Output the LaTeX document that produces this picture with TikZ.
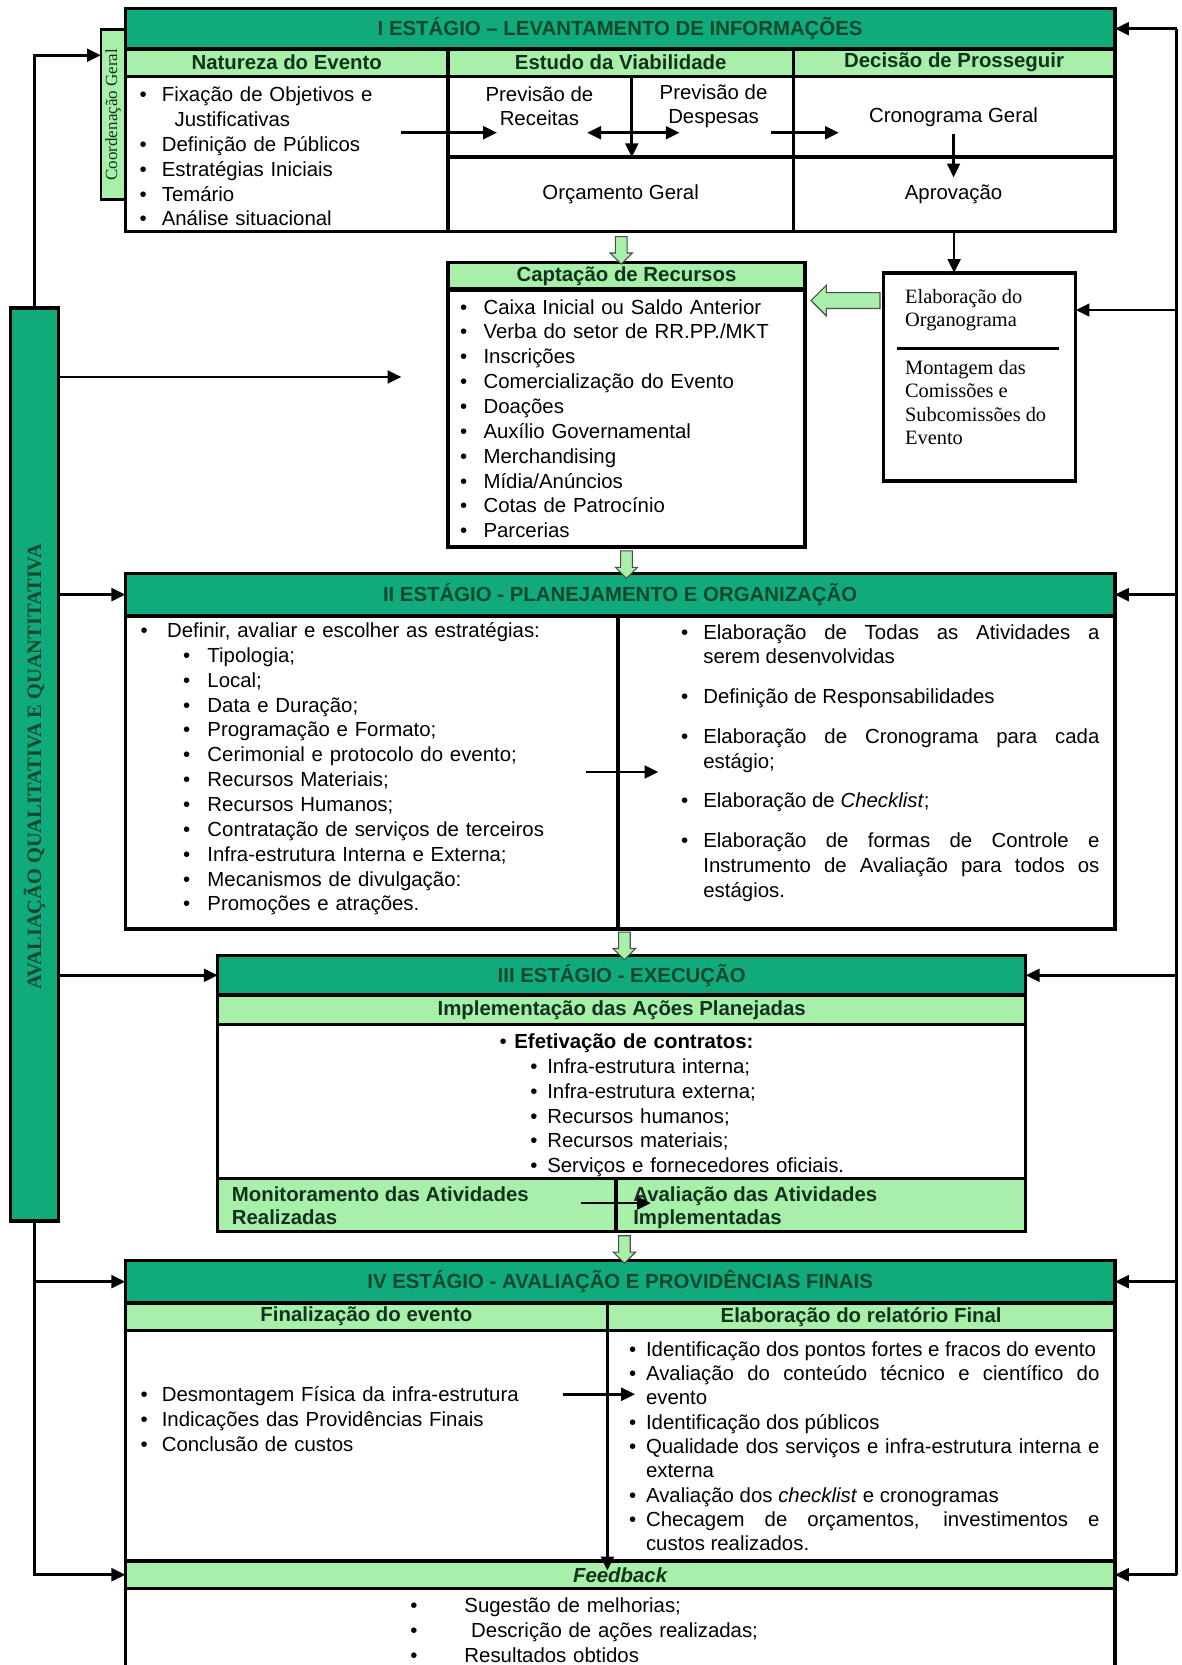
\documentclass[tikz,border=0pt]{standalone}
\usepackage{fontspec}
\setmainfont{Liberation Sans}
\newfontfamily\serifa{Liberation Serif}
\usetikzlibrary{arrows.meta,shapes.arrows}
\definecolor{verdeEscuro}{RGB}{16,170,124}
\definecolor{verdeClaro}{RGB}{168,240,170}
\definecolor{verdeTitulo}{RGB}{14,72,44}
\definecolor{verdeSub}{RGB}{18,50,30}
\def\Fonte{\fontsize{9.6}{11.7}\selectfont}
\newlength\recuo
\def\Item#1{\par\hangindent=\recuo\hangafter=1\noindent\strut\makebox[\recuo][l]{\textbullet}#1}
\def\Caixa#1#2#3#4#5#6#7{%
 \node[caixa,#6,minimum width={(#4-#2)*0.5pt},minimum height={(#5-#3)*0.5pt}]
   (#1) at ({(#2+#4)/2},{(#3+#5)/2}) {#7};
}
\tikzset{
 caixa/.style={draw, line width=1.6pt, inner sep=2pt, outer sep=0pt},
 titulo/.style={fill=verdeEscuro, text=verdeTitulo, font=\Fonte\bfseries},
 subtitulo/.style={fill=verdeClaro, text=verdeSub, font=\Fonte\bfseries},
 lista/.style={inner sep=0pt, anchor=north west, align=left},
 seta/.style={-{Triangle[length=6.5pt,width=6pt]}, line width=1.3pt},
 setas/.style={{Triangle[length=6.5pt,width=6pt]}-{Triangle[length=6.5pt,width=6pt]}, line width=1.3pt},
 linha/.style={line width=1.3pt},
 grossa/.style={single arrow, draw=black!70, fill=verdeClaro, line width=0.5pt,
   inner xsep=0pt, inner ysep=2.5pt, single arrow head extend=2.5pt, minimum height=13pt}
}
\begin{document}
\begin{tikzpicture}[x=0.5pt,y=-0.5pt,font=\Fonte]
\useasboundingbox (0,0) rectangle (1113,1568);

% I estagio
\Caixa{est1}{118}{8}{1050}{46}{titulo}{I ESTÁGIO – LEVANTAMENTO DE INFORMAÇÕES}
\Caixa{natureza}{118}{46}{422}{72}{subtitulo}{Natureza do Evento}
\Caixa{estudo}{422}{46}{747}{72}{subtitulo}{Estudo da Viabilidade}
\Caixa{decisao}{747}{46}{1050}{72}{subtitulo}{Decisão de Prosseguir}
\Caixa{natCorpo}{118}{72}{422}{218}{}{}
\Caixa{previsao}{422}{72}{747}{148}{}{}
\Caixa{orcamento}{422}{148}{747}{218}{}{Orçamento Geral}
\Caixa{cronCel}{747}{72}{1050}{148}{}{}
\Caixa{aprovCel}{747}{148}{1050}{218}{}{}

\node[lista, text width=143pt] (natLista) at (131,72) {\setlength\recuo{10.5pt}%
 \Item{Fixação de Objetivos e\newline\hspace*{6pt}Justificativas}
 \Item{Definição de Públicos}
 \Item{Estratégias Iniciais}
 \Item{Temário}
 \Item{Análise situacional}\par};
\node[align=center] (receitas) at (508,100) {Previsão de\\Receitas};
\node[align=center] (despesas) at (672,100) {Previsão de\\Despesas};
\node (cronograma) at (898,110) {Cronograma Geral};
\node (aprovacao) at (898,183) {Aprovação};

\coordinate (divPrev) at (595,72);
\coordinate (natSai) at (378,125);
\coordinate (recEntra) at (468,125);
\coordinate (duploE) at (553,125);
\coordinate (duploD) at (640,125);
\coordinate (despSai) at (726,125);
\coordinate (cronEntra) at (790,125);
\draw[seta] (divPrev) -- (divPrev |- orcamento.north);
\draw[seta] (natSai) -- (recEntra);
\draw[setas] (duploE) -- (duploD);
\draw[seta] (despSai) -- (cronEntra);
\draw[seta] (cronograma) -- (aprovacao);

% coordenacao e avaliacao
\Caixa{coord}{95}{28}{118}{188}{fill=verdeClaro, line width=1.2pt}{}
\node[rotate=90, text=verdeSub, font=\serifa\fontsize{8}{9}\selectfont] (coordTxt) at (coord.center) {Coordenação Geral};
\Caixa{aval}{10}{290}{55}{1150}{fill=verdeEscuro}{}
\node[rotate=90, text=verdeTitulo, font=\serifa\bfseries\fontsize{9.6}{11}\selectfont] (avalTxt) at (32.5,722) {AVALIAÇÃO QUALITATIVA E QUANTITATIVA};

% captacao e organograma
\Caixa{captacao}{422}{248}{758}{272}{subtitulo}{Captação de Recursos}
\Caixa{capCorpo}{422}{272}{758}{515}{}{}
\node[lista, text width=160pt] (capLista) at (433,272) {\setlength\recuo{11pt}%
 \Item{Caixa Inicial ou Saldo Anterior}
 \Item{Verba do setor de RR.PP./MKT}
 \Item{Inscrições}
 \Item{Comercialização do Evento}
 \Item{Doações}
 \Item{Auxílio Governamental}
 \Item{Merchandising}
 \Item{Mídia/Anúncios}
 \Item{Cotas de Patrocínio}
 \Item{Parcerias}\par};
\Caixa{org}{832}{257}{1013}{453}{}{}
\node[lista, font=\serifa\fontsize{9.6}{11}\selectfont] (orgTxt) at (852,272) {Elaboração do\\Organograma};
\draw[line width=1.2pt] (845,328) -- (997,328);
\node[lista, font=\serifa\fontsize{9.6}{11}\selectfont] (montTxt) at (852,339) {Montagem das\\Comissões e\\Subcomissões do\\Evento};
\draw[seta] (aprovCel.south) -- (aprovCel.south |- org.north);
\node[grossa, rotate=180, inner ysep=3.5pt, single arrow head extend=3.5pt, minimum height=32.5pt] (orgSeta) at (800,283) {};

% II estagio
\Caixa{est2}{118}{540}{1050}{580}{titulo}{II ESTÁGIO - PLANEJAMENTO E ORGANIZAÇÃO}
\Caixa{est2e}{118}{580}{582}{875}{}{}
\Caixa{est2d}{582}{580}{1050}{875}{}{}
\node[lista, text width=215pt] (defLista) at (132,577) {\setlength\recuo{12.5pt}%
 \Item{Definir, avaliar e escolher as estratégias:}\par};
\node[lista, text width=190pt] (estrLista) at (172,600) {\setlength\recuo{11.5pt}%
 \Item{Tipologia;}
 \Item{Local;}
 \Item{Data e Duração;}
 \Item{Programação e Formato;}
 \Item{Cerimonial e protocolo do evento;}
 \Item{Recursos Materiais;}
 \Item{Recursos Humanos;}
 \Item{Contratação de serviços de terceiros}
 \Item{Infra-estrutura Interna e Externa;}
 \Item{Mecanismos de divulgação:}
 \Item{Promoções e atrações.}\par};
\node[lista, align=justify, text width=197pt] (ativLista) at (641,578) {\setlength\recuo{10.5pt}%
 \Item{Elaboração de Todas as Atividades a\linebreak serem desenvolvidas}\par\vspace{7pt}
 \Item{Definição de Responsabilidades}\par\vspace{7pt}
 \Item{Elaboração de Cronograma para cada\linebreak estágio;}\par\vspace{7pt}
 \Item{Elaboração de \textit{Checklist};}\par\vspace{7pt}
 \Item{Elaboração de formas de Controle e\linebreak Instrumento de Avaliação para todos os\linebreak estágios.}\par};
\coordinate (est2Sai) at (552,727);
\coordinate (est2Entra) at (620,727);
\draw[seta] (est2Sai) -- (est2Entra);

% III estagio
\Caixa{est3}{205}{900}{966}{937}{titulo}{III ESTÁGIO - EXECUÇÃO}
\Caixa{implem}{205}{937}{966}{965}{subtitulo}{Implementação das Ações Planejadas}
\Caixa{est3Corpo}{205}{965}{966}{1110}{}{}
\Caixa{monit}{205}{1110}{580}{1160}{fill=verdeClaro}{}
\Caixa{avalAtiv}{580}{1110}{966}{1160}{fill=verdeClaro}{}
\node[lista, text width=200pt] (efetLista) at (470,964) {\setlength\recuo{7pt}%
 \Item{\bfseries Efetivação de contratos:}\par};
\node[lista, text width=200pt] (contrLista) at (499,987) {\setlength\recuo{8pt}%
 \Item{Infra-estrutura interna;}
 \Item{Infra-estrutura externa;}
 \Item{Recursos humanos;}
 \Item{Recursos materiais;}
 \Item{Serviços e fornecedores oficiais.}\par};
\node[lista, text=verdeSub, font=\fontsize{9.6}{11}\selectfont\bfseries] (monitTxt) at (218,1117) {Monitoramento das Atividades\\Realizadas};
\node[lista, text=verdeSub, font=\fontsize{9.6}{11}\selectfont\bfseries] (avalAtivTxt) at (596,1117) {Avaliação das Atividades\\Implementadas};
\coordinate (est3Sai) at (547,1133);
\coordinate (est3Entra) at (613,1133);
\draw[seta] (est3Sai) -- (est3Entra);

% IV estagio
\Caixa{est4}{118}{1187}{1050}{1227}{titulo}{IV ESTÁGIO - AVALIAÇÃO E PROVIDÊNCIAS FINAIS}
\Caixa{finaliz}{118}{1227}{572}{1253}{subtitulo}{Finalização do evento}
\Caixa{relat}{572}{1227}{1050}{1253}{subtitulo}{Elaboração do relatório Final}
\Caixa{est4e}{118}{1253}{572}{1470}{}{}
\Caixa{est4d}{572}{1253}{1050}{1470}{}{}
\Caixa{feed}{118}{1470}{1050}{1496}{subtitulo}{\itshape Feedback}
\Caixa{feedCorpo}{118}{1496}{1050}{1590}{}{}
\node[lista, text width=200pt] (finLista) at (132,1296) {\setlength\recuo{10pt}%
 \Item{Desmontagem Física da infra-estrutura}
 \Item{Indicações das Providências Finais}
 \Item{Conclusão de custos}\par};
\node[lista, align=justify, text width=221.5pt, font=\fontsize{9.6}{11.45}\selectfont] (relLista) at (592,1254) {\setlength\recuo{8pt}%
 \Item{Identificação dos pontos fortes e fracos do evento}
 \Item{Avaliação do conteúdo técnico e científico do\linebreak evento}
 \Item{Identificação dos públicos}
 \Item{Qualidade dos serviços e infra-estrutura interna e\linebreak externa}
 \Item{Avaliação dos \textit{checklist} e cronogramas}
 \Item{Checagem de orçamentos, investimentos e\linebreak custos realizados.}\par};
\node[lista, text width=200pt, font=\fontsize{9.6}{11.9}\selectfont] (feedLista) at (386,1494) {\setlength\recuo{25.5pt}%
 \Item{Sugestão de melhorias;}
 \Item{\ Descrição de ações realizadas;}
 \Item{Resultados obtidos}\par};
\coordinate (est4Sai) at (530,1313);
\coordinate (est4Entra) at (598,1313);
\coordinate (fbSeta) at (572,1479);
\draw[seta] (est4Sai) -- (est4Entra);
\draw[seta] (est4d.north west) -- (fbSeta);

% setas entre estagios
\node[grossa, rotate=-90] (seta1) at (585,233) {};
\node[grossa, rotate=-90] (seta2) at (590,529) {};
\node[grossa, rotate=-90] (seta3) at (588,888) {};
\node[grossa, rotate=-90] (seta4) at (588,1174) {};

% laterais
\coordinate (esqTopo) at (32.5,52);
\coordinate (livre) at (378,355);
\draw[seta] (aval.north) -- (esqTopo) -- (coord.west |- esqTopo);
\draw[seta] (aval.east |- livre) -- (livre);
\draw[seta] (aval.east |- est2.west) -- (est2.west);
\draw[seta] (aval.east |- est3.west) -- (est3.west);
\draw[seta] (aval.south) |- (est4.west);
\draw[seta] (aval.south) |- (feed.west);

\coordinate (dirTopo) at (1108,27);
\coordinate (dirBase) at (1108,1483);
\coordinate (orgEntra) at (1013,292);
\draw[linha] (dirTopo) -- (dirBase);
\draw[seta] (dirTopo) -- (est1.east);
\draw[seta] (dirTopo |- orgEntra) -- (orgEntra);
\draw[seta] (dirTopo |- est2.east) -- (est2.east);
\draw[seta] (dirTopo |- est3.east) -- (est3.east);
\draw[seta] (dirTopo |- est4.east) -- (est4.east);
\draw[seta] (dirBase) -- (feed.east);
\end{tikzpicture}
\end{document}
